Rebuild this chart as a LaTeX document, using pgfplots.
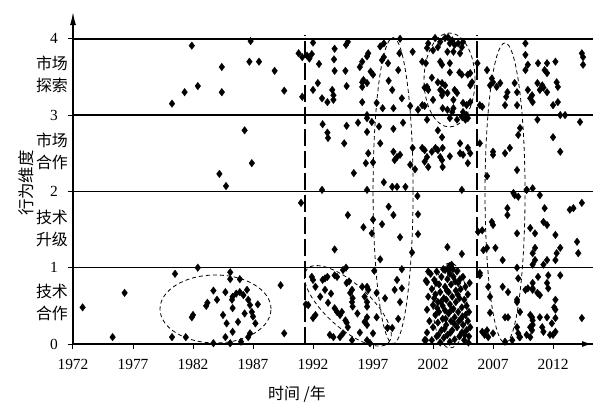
\documentclass[border=0pt]{standalone}
\usepackage{fontspec}
\setmainfont{Liberation Serif}
\newfontfamily\cjk{Noto Sans CJK SC}
\usepackage{pgfplots}
\pgfplotsset{compat=1.18}
\usetikzlibrary{arrows.meta}
\begin{document}
\begin{tikzpicture}
\useasboundingbox (-73bp,-60bp) rectangle (521bp,344bp);
\begin{axis}[
  at={(0,0)}, anchor=south west,
  scale only axis, width=520bp, height=331.9bp,
  xmin=1972, xmax=2015.33, ymin=0, ymax=4.35,
  axis lines=left,
  clip=false,
  x axis line style={line width=2bp,-{Latex[length=11bp,width=6bp]}},
  y axis line style={line width=1.2bp,-{Latex[length=13bp,width=6bp]}},
  xtick={1972,1977,1982,1987,1992,1997,2002,2007,2012},
  ytick={0,1,2,3,4},
  tick align=outside,
  major tick length=5bp,
  tick style={line width=1bp,black},
  ymajorgrids,
  major grid style={line width=1.5bp,black},
  /pgf/number format/1000 sep={},
  /pgf/number format/assume math mode=true,
  tick label style={font=\rmfamily\fontsize{15.5}{15.5}\selectfont},
  xticklabel style={yshift=-7bp},
  yticklabel style={anchor=center,xshift=-14bp},
]
\addplot[only marks, mark=diamond*, mark size=3.8bp, mark options={line width=0.3bp, fill=black, draw=black}] table {
x y
1972.8 0.48
1975.3 0.09
1976.3 0.67
1980.25 0.09
1980.5 0.92
1981.4 0.09
1981.9 0.35
1982.0 0.38
1982.4 1.0
1983.1 0.50
1983.2 0.54
1983.7 0.70
1983.7 0.01
1984.0 0.58
1984.5 0.38
1984.7 0.68
1984.7 0.09
1984.8 0.27
1985.1 0.94
1985.1 0.85
1985.1 0.01
1985.25 0.58
1985.3 0.62
1985.3 0.47
1985.3 0.16
1985.6 0.66
1985.75 0.29
1985.9 0.85
1985.9 0.68
1986.0 0.03
1986.2 0.64
1986.3 0.40
1986.5 0.71
1986.6 0.58
1986.6 0.09
1986.75 0.51
1986.75 0.14
1986.9 0.42
1987.0 0.36
1987.2 0.27
1987.4 0.52
1989.3 0.77
1989.6 0.14
1984.75 2.07
1984.2 2.23
1986.9 2.37
1986.3 2.80
1980.25 3.15
1981.3 3.30
1982.4 3.38
1984.4 3.30
1984.4 3.63
1981.9 3.91
1986.8 3.97
1986.7 3.70
1987.5 3.70
1988.8 3.58
1989.6 3.32
1991.1 3.24
1990.8 3.81
1991.1 3.76
1991.0 1.85
1992.0 3.95
1991.5 3.78
1991.7 3.74
1991.9 3.80
1992.5 3.67
1993.8 3.87
1993.75 3.73
1994.75 3.92
1994.9 3.96
1993.8 3.58
1994.7 3.58
1996.6 3.81
1996.5 3.77
1996.1 3.70
1995.9 3.63
1996.8 3.57
1997.0 3.53
1996.2 3.46
1996.1 3.43
1996.5 3.42
1996.1 3.37
1994.8 3.38
1992.4 3.42
1992.0 3.33
1992.75 3.22
1993.2 3.17
1993.6 3.33
1993.7 3.26
1993.7 3.20
1996.1 3.17
1997.9 3.94
1997.6 3.90
1997.75 3.72
1997.9 3.76
1998.25 3.68
1998.3 3.45
1998.6 3.33
1999.1 3.59
1999.2 3.81
1999.25 4.0
2000.3 3.83
1997.3 3.16
1997.8 3.09
1998.7 3.09
1999.4 3.22
2000.1 3.12
2000.75 3.07
2001.3 3.12
2001.4 3.68
2001.6 3.94
1992.8 2.88
1993.2 2.77
1993.25 2.70
1994.8 2.86
1994.6 2.63
1995.75 2.90
1996.5 2.96
1996.5 3.0
1996.5 2.78
1996.9 2.91
1997.5 2.85
1997.6 2.63
1998.7 2.82
1999.5 2.90
1996.6 2.50
1996.4 2.37
1997.0 2.38
1995.4 2.24
1998.7 2.52
1999.0 2.45
1999.25 2.48
1998.8 2.41
2000.3 2.57
2000.1 2.35
2000.5 2.29
1997.9 2.12
1998.6 2.06
1999.0 2.06
1999.7 2.06
1992.75 2.02
1996.5 2.02
2000.7 1.94
1994.9 1.69
1996.2 1.53
1997.0 1.63
1997.75 1.57
1998.3 1.80
1998.7 1.69
1996.9 1.45
1999.25 1.40
2000.75 1.70
2000.75 1.44
1993.8 1.24
1997.6 1.11
2000.25 1.20
1997.1 0.96
1999.4 0.98
1994.75 1.0
1991.9 0.88
1992.0 0.84
1993.0 0.86
1992.8 0.84
1993.2 0.88
1993.8 0.90
1994.0 0.88
1994.5 0.97
1992.2 0.75
1993.0 0.71
1994.8 0.80
1995.0 0.82
1995.25 0.71
1995.1 0.67
1996.1 0.75
1996.5 0.75
1996.6 0.71
1997.3 0.67
1998.0 0.60
1998.8 0.71
1999.4 0.73
1999.0 0.84
2001.5 0.81
1991.6 0.51
1992.2 0.38
1992.0 0.34
1993.25 0.54
1993.8 0.47
1994.0 0.42
1994.4 0.42
1994.25 0.38
1995.3 0.60
1995.25 0.55
1995.3 0.49
1996.3 0.62
1996.5 0.55
1996.5 0.49
1994.7 0.31
1994.8 0.28
1994.9 0.22
1996.5 0.35
1996.3 0.29
1996.5 0.25
1997.3 0.35
1997.0 0.14
1998.2 0.21
1998.6 0.21
1999.1 0.33
1999.25 0.55
1993.4 0.12
1993.7 0.09
1994.5 0.14
1994.25 0.09
1995.25 0.05
1996.5 0.05
1996.75 0.01
2001.3 0.05
1991.4 0.52
1992.6 0.62
1993.5 0.66
1995.7 0.40
1995.9 0.15
2002.17 4.01
2002.6 3.96
2003.0 4.01
2003.25 4.02
2003.6 3.98
2003.4 3.94
2003.8 3.92
2004.1 3.94
2004.4 3.89
2004.5 3.96
2001.5 3.88
2002.0 3.85
2002.4 3.89
2003.2 3.83
2003.7 3.83
2004.25 3.81
2001.1 3.70
2002.6 3.70
2002.75 3.66
2003.4 3.68
2003.4 3.56
2004.2 3.56
2004.4 3.53
2004.9 3.53
2005.1 3.55
2001.9 3.49
2002.4 3.43
2002.75 3.42
2003.0 3.39
2001.3 3.36
2001.6 3.33
2001.5 3.37
2002.6 3.33
2002.8 3.30
2003.2 3.29
2002.75 3.26
2003.8 3.33
2004.0 3.29
2005.1 3.39
2005.25 3.43
2002.0 3.20
2003.7 3.20
2004.5 3.16
2004.8 3.13
2005.1 3.17
2002.8 3.09
2003.2 3.07
2003.7 3.09
2003.6 3.04
2001.1 3.13
2004.5 3.04
2004.8 3.00
2004.9 2.96
2004.7 2.94
2004.4 2.98
2004.0 2.94
2003.4 2.96
2001.5 2.94
2005.9 3.13
2006.1 3.11
2006.5 3.59
2005.7 3.68
2002.4 2.80
2002.75 2.71
2001.1 2.57
2001.3 2.54
2001.9 2.52
2002.2 2.57
2002.4 2.54
2002.8 2.57
2001.5 2.45
2001.3 2.39
2001.6 2.32
2002.6 2.45
2002.75 2.41
2002.8 2.32
2003.4 2.46
2004.25 2.63
2004.25 2.50
2004.5 2.48
2004.9 2.57
2005.1 2.50
2004.9 2.37
2005.9 2.63
2007.0 2.52
2007.0 2.48
2008.0 2.50
2008.4 2.57
2009.1 2.74
2009.25 2.83
2006.5 2.20
2009.0 2.28
2004.4 2.02
2008.8 1.95
2009.1 1.93
2009.8 2.02
2008.2 1.78
2008.2 1.69
2006.9 1.60
2007.0 1.56
2005.75 1.47
2006.1 1.49
2009.0 1.45
2010.1 1.52
2010.5 1.45
2003.2 1.27
2004.4 1.18
2006.2 1.23
2006.5 1.26
2007.2 1.26
2007.8 1.10
2010.5 1.26
2009.0 1.00
2001.4 0.83
2001.5 0.45
2001.5 0.15
2001.6 0.62
2001.7 0.30
2001.8 0.92
2001.9 0.72
2001.9 0.05
2002.0 0.51
2002.0 0.22
2002.1 0.84
2002.2 0.38
2002.2 0.65
2002.3 0.10
2002.3 0.95
2002.4 0.55
2002.4 0.28
2002.5 0.78
2002.5 0.42
2002.6 0.02
2002.6 0.68
2002.7 0.18
2002.7 0.88
2002.8 0.50
2002.8 0.33
2002.9 0.60
2002.9 0.08
2003.0 0.75
2003.0 0.44
2003.0 0.97
2003.1 0.25
2003.1 0.58
2003.2 0.85
2003.2 0.12
2003.3 0.40
2003.3 0.68
2003.4 0.03
2003.4 0.92
2003.4 0.52
2003.5 0.30
2003.5 0.78
2003.6 0.18
2003.6 0.62
2003.7 0.46
2003.7 0.88
2003.8 0.06
2003.8 0.35
2003.9 0.70
2003.9 0.55
2004.0 0.22
2004.0 0.95
2004.1 0.42
2004.1 0.80
2004.2 0.10
2004.2 0.60
2004.3 0.32
2004.3 0.72
2004.4 0.48
2004.4 0.15
2004.5 0.88
2004.5 0.25
2004.6 0.58
2004.6 0.05
2004.7 0.38
2004.7 0.75
2004.8 0.18
2004.8 0.50
2004.9 0.30
2004.9 0.65
2005.0 0.10
2005.0 0.42
2005.1 0.22
2002.1 0.60
2002.35 0.47
2002.65 0.55
2002.95 0.20
2003.15 0.70
2003.45 0.15
2003.55 0.45
2003.75 0.27
2004.05 0.65
2004.25 0.85
2004.45 0.36
2004.65 0.12
2002.45 0.12
2003.25 0.97
2003.65 0.98
2002.85 0.98
2004.15 0.30
2003.05 0.33
2002.25 0.80
2003.85 0.82
2001.6 0.95
2001.4 0.05
2005.05 0.80
2004.95 0.02
2003.35 1.02
2003.55 1.04
2005.9 0.90
2006.6 0.75
2006.75 0.62
2006.1 0.16
2006.3 0.12
2006.6 0.09
2007.8 0.75
2008.25 0.68
2008.0 0.35
2008.25 0.35
2009.1 0.86
2009.0 0.55
2009.25 0.42
2009.0 0.22
2008.0 0.03
2009.25 0.09
2009.1 0.14
2010.25 0.35
2010.3 0.31
2010.1 0.22
2010.25 0.18
2010.1 0.09
2009.9 0.73
2010.3 0.71
2009.7 3.94
2009.7 3.79
2009.9 3.66
2009.7 3.59
2010.75 3.68
2011.5 3.68
2011.3 3.59
2011.5 3.55
2012.2 3.70
2011.1 3.39
2011.2 3.36
2010.9 3.33
2011.5 3.30
2012.3 3.43
2012.4 3.37
2009.9 3.33
2010.25 3.26
2010.1 3.22
2010.3 3.17
2010.7 3.42
2008.8 3.42
2009.0 3.30
2008.2 3.30
2008.1 3.24
2007.6 3.42
2007.3 3.37
2006.75 3.39
2007.0 3.43
2006.9 3.48
2008.0 3.13
2009.0 3.13
2012.0 3.13
2012.4 3.17
2012.6 3.00
2013.0 3.00
2014.4 3.81
2014.5 3.76
2014.5 3.66
2014.25 2.91
2010.7 2.94
2012.0 2.71
2012.6 2.52
2010.3 2.04
2010.9 1.95
2009.8 2.02
2008.7 1.98
2011.3 1.78
2013.4 1.76
2013.7 1.78
2014.4 1.85
2011.2 1.60
2011.5 1.56
2012.2 1.43
2010.3 1.19
2012.6 1.26
2012.3 1.19
2014.0 1.34
2014.1 1.19
2011.5 1.10
2011.2 1.04
2012.2 1.10
2010.5 1.10
2010.3 1.04
2012.6 0.90
2010.75 0.88
2011.6 0.90
2010.3 0.80
2010.3 0.73
2010.7 0.67
2010.9 0.64
2011.5 0.80
2011.6 0.73
2012.2 0.58
2012.1 0.48
2012.2 0.45
2012.2 0.34
2012.2 0.16
2012.0 0.12
2014.4 0.34
2010.9 0.35
2011.5 0.35
2010.1 0.38
2010.3 0.25
2011.1 0.22
2011.9 0.27
2011.75 0.12
2009.8 0.12
2006.75 0.41
2007.0 0.14
2006.5 0.18
2009.2 0.09
2011.2 0.16
2005.9 0.93
2009.7 0.71
2009.0 0.58
2008.6 0.05
};
\coordinate (e1) at (axis cs:1983.875,0.459);
\coordinate (e2) at (axis cs:1994.9,0.50);
\coordinate (e3) at (axis cs:1998.67,2.01);
\coordinate (e4) at (axis cs:2003.375,3.46);
\coordinate (e5) at (axis cs:2003.42,0.505);
\coordinate (e6) at (axis cs:2008.0,1.98);
\draw[line width=2bp, dash pattern=on 17bp off 5bp] (axis cs:1991.33,0) -- (axis cs:1991.33,4.05);
\draw[line width=2bp, dash pattern=on 17bp off 5bp] (axis cs:2005.67,0) -- (axis cs:2005.67,4.05);
\node[align=center, font=\cjk\fontsize{16}{22}\selectfont] at (axis cs:1972,3.54) [xshift=-21bp] {市场\\探索};
\node[align=center, font=\cjk\fontsize{16}{22}\selectfont] at (axis cs:1972,2.52) [xshift=-21bp] {市场\\合作};
\node[align=center, font=\cjk\fontsize{16}{22}\selectfont] at (axis cs:1972,1.52) [xshift=-21bp] {技术\\升级};
\node[align=center, font=\cjk\fontsize{16}{22}\selectfont] at (axis cs:1972,0.55) [xshift=-21bp] {技术\\合作};
\node[rotate=90, font=\cjk\fontsize{16.5}{18}\selectfont] at (axis cs:1972,2.11) [yshift=47bp] {行为维度};
\node[font=\cjk\fontsize{16}{18}\selectfont] at (axis cs:1990.67,0) [yshift=-50bp] {时间 /年};
\end{axis}
\begin{scope}[line width=0.8bp, dash pattern=on 4bp off 3bp]
\draw (e1) ellipse [x radius=55.5bp, y radius=34bp];
\draw[rotate around={-42:(e2)}] (e2) ellipse [x radius=55bp, y radius=22bp];
\draw (e3) ellipse [x radius=20bp, y radius=153bp];
\draw (e4) ellipse [x radius=25.5bp, y radius=47bp];
\draw (e5) ellipse [x radius=17bp, y radius=42.5bp];
\draw (e6) ellipse [x radius=20bp, y radius=150bp];
\end{scope}
\end{tikzpicture}
\end{document}
